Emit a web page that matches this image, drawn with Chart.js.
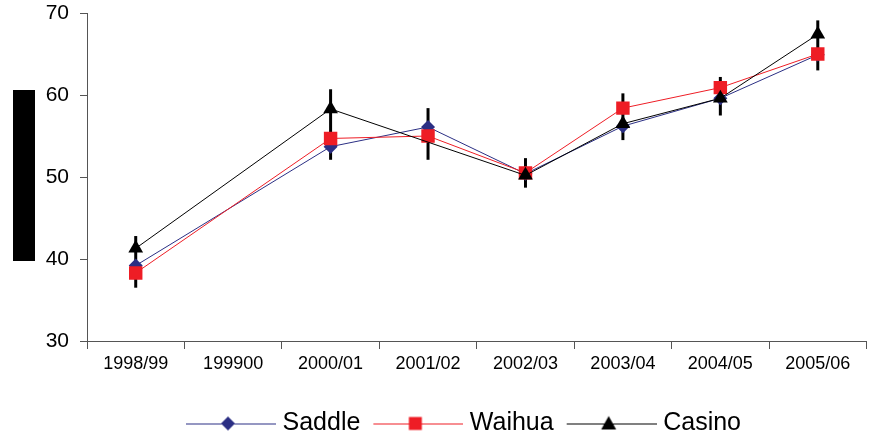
<!DOCTYPE html>
<html>
<head>
<meta charset="utf-8">
<script src="https://cdn.jsdelivr.net/npm/chart.js@4.4.1/dist/chart.umd.min.js"></script>
<style>
  body { margin: 0; background: #fff; }
  #wrap { position: relative; width: 876px; height: 439px; }
  #bar { position: absolute; left: 13px; top: 90px; width: 22px; height: 171px; background: #000; }
</style>
</head>
<body>
<div id="wrap">
  <canvas id="trend" width="876" height="439"></canvas>
  <div id="bar"></div>
</div>
<script>
var seasons = ["1998/99", "199900", "2000/01", "2001/02", "2002/03", "2003/04", "2004/05", "2005/06"];
var saddle = [39.2, null, 53.7, 56.1, 50.4, 56.2, 59.6, 64.9];
var waihua = [38.3, null, 54.7, 55.0, 50.5, 58.4, 60.9, 65.0];
var casino = [41.3, null, 58.3, null, 50.2, 56.5, 59.6, 67.4];
var errHigh = [42.8, null, 60.7, 58.4, 52.3, 60.2, 62.2, 69.1];
var errLow = [36.5, null, 52.1, 52.1, 48.7, 54.5, 57.5, 63.0];
var yTicks = [30, 40, 50, 60, 70];

var FONT = "'Liberation Sans', Arial, sans-serif";

// line + marker picture for the legend (drawn centred, line runs 6px past the box on the right)
function legendIcon(color, shape, r) {
    var c = document.createElement('canvas');
    c.width = 96; c.height = 20;
    var g = c.getContext('2d');
    g.strokeStyle = color;
    g.lineWidth = 1;
    g.beginPath(); g.moveTo(6, 10.5); g.lineTo(96, 10.5); g.stroke();
    g.fillStyle = color;
    g.beginPath();
    var cx = 48;
    if (shape === 'rectRot') {
        g.moveTo(cx, 10 - r); g.lineTo(cx + r, 10); g.lineTo(cx, 10 + r); g.lineTo(cx - r, 10);
    } else if (shape === 'rect') {
        g.rect(cx - r, 10 - r, 2 * r, 2 * r);
    } else {
        g.moveTo(cx, 10 - r); g.lineTo(cx + r, 10 + r * 0.8); g.lineTo(cx - r, 10 + r * 0.8);
    }
    g.closePath(); g.fill();
    return c;
}

var errorBars = {
    id: 'errorBars',
    beforeDatasetsDraw: function (chart) {
        var x = chart.scales.x, y = chart.scales.y, ctx = chart.ctx;
        ctx.save();
        ctx.strokeStyle = '#000';
        ctx.lineWidth = 3;
        for (var i = 0; i < seasons.length; i++) {
            if (errHigh[i] == null) continue;
            var px = x.getPixelForValue(i);
            ctx.beginPath();
            ctx.moveTo(px, y.getPixelForValue(errHigh[i]));
            ctx.lineTo(px, y.getPixelForValue(errLow[i]));
            ctx.stroke();
        }
        ctx.restore();
    }
};

// nudge the legend so it sits where the original one is
var legendShift = {
    id: 'legendShift',
    afterLayout: function (chart) {
        var l = chart.legend;
        if (!l || !l.lineWidths) return;
        var pad = l.options.labels.padding;
        var x0 = (l.left + pad + l.right - l.lineWidths[0]) / 2;
        var dx = 186 - x0;
        l.left += dx; l.right += dx;
        l.top += 7; l.bottom += 7;
    }
};

var series = [
    { label: 'Saddle', data: saddle, color: '#2B2F84', shape: 'rectRot', radius: 7, order: 3, icon: 7 },
    { label: 'Waihua', data: waihua, color: '#EE1D25', shape: 'rect', radius: 9.5, order: 2, icon: 6.5 },
    { label: 'Casino', data: casino, color: '#000000', shape: 'triangle', radius: 8.5, order: 1, icon: 7.5 }
];

var ctx = document.getElementById('trend');
var trendChart = new Chart(ctx, {
    type: 'line',
    data: {
        labels: seasons,
        datasets: series.map(function (s) {
            return {
                label: s.label,
                data: s.data,
                borderColor: s.color,
                backgroundColor: s.color,
                borderWidth: 1,
                pointStyle: s.shape,
                pointRadius: s.radius,
                pointBorderWidth: 0,
                spanGaps: true,
                order: s.order
            };
        })
    },
    options: {
        responsive: false,
        animation: false,
        layout: { padding: { left: 0, right: 8, top: 13, bottom: 0 } },
        plugins: {
            tooltip: { enabled: false },
            legend: {
                position: 'bottom',
                labels: {
                    usePointStyle: true,
                    pointStyleWidth: 84,
                    padding: 13,
                    color: '#000',
                    font: { family: FONT, size: 25 },
                    generateLabels: function () {
                        return series.map(function (s, i) {
                            return {
                                text: s.label,
                                pointStyle: legendIcon(s.color, s.shape, s.icon),
                                fillStyle: s.color,
                                strokeStyle: s.color,
                                lineWidth: 0,
                                datasetIndex: i,
                                fontColor: '#000'
                            };
                        });
                    }
                }
            }
        },
        scales: {
            x: {
                offset: true,
                grid: { offset: true, drawOnChartArea: false, tickLength: 8, color: '#555' },
                border: { color: '#555' },
                ticks: { color: '#000', padding: 4, maxRotation: 0, autoSkip: false, font: { family: FONT, size: 18 } },
                afterFit: function (scale) { scale.height = 50; scale.paddingLeft = 0; scale.paddingRight = 0; }
            },
            y: {
                min: 30,
                max: 70,
                afterBuildTicks: function (scale) {
                    scale.ticks = yTicks.map(function (v) { return { value: v }; });
                },
                grid: { drawOnChartArea: false, tickLength: 7, color: '#555' },
                border: { color: '#555' },
                ticks: { color: '#000', padding: 11, font: { family: FONT, size: 21 } },
                afterFit: function (scale) { scale.width = 87; scale.paddingTop = 0; scale.paddingBottom = 0; }
            }
        }
    },
    plugins: [errorBars, legendShift]
});
</script>
</body>
</html>
